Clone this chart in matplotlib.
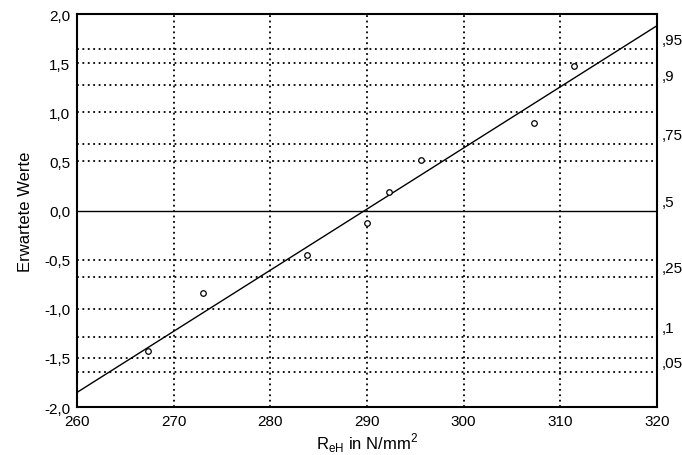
import matplotlib.pyplot as plt
import matplotlib.transforms as mtransforms
import numpy as np

plt.rcParams['font.family'] = ['Liberation Sans', 'DejaVu Sans']

# Messwerte R_eH und erwartete Normalwerte
x_werte = [267.3, 273.0, 283.8, 290.0, 292.3, 295.6, 307.3, 311.4]
y_werte = [-1.43, -0.84, -0.45, -0.13, 0.19, 0.51, 0.89, 1.47]

# Ausgleichsgerade
linie_x = [260, 320]
linie_y = [-1.85, 1.88]

# rechte Skala: Wahrscheinlichkeiten und ihre z-Werte
p_labels = [",95", ",9", ",75", ",5", ",25", ",1", ",05"]
p_z = [1.645, 1.2816, 0.674, 0.0, -0.674, -1.2816, -1.645]

x_ticks = [260, 270, 280, 290, 300, 310, 320]
y_ticks = [-2.0, -1.5, -1.0, -0.5, 0.0, 0.5, 1.0, 1.5, 2.0]

fig = plt.figure(figsize=(6.82, 4.56), dpi=100)
ax = fig.add_axes([0.113, 0.105, 0.85, 0.862])

ax.set_xlim(260, 320)
ax.set_ylim(-2.0, 2.0)

# Gitter
for xv in x_ticks[1:-1]:
    ax.axvline(xv, color='black', linestyle=(0, (1, 2)), linewidth=1.3, zorder=1)
for yv in y_ticks[1:-1]:
    if yv == 0.0:
        ax.axhline(yv, color='black', linestyle='-', linewidth=1.0, zorder=1)
    else:
        ax.axhline(yv, color='black', linestyle=(0, (1, 2)), linewidth=1.3, zorder=1)
for z in p_z:
    if z != 0.0:
        ax.axhline(z, color='black', linestyle=(0, (1, 2)), linewidth=1.3, zorder=1)

ax.plot(linie_x, linie_y, color='black', linewidth=1.0, zorder=2)
ax.plot(x_werte, y_werte, linestyle='none', marker='o', markersize=4,
        markerfacecolor='white', markeredgecolor='black', markeredgewidth=0.9, zorder=3)

ax.set_xticks(x_ticks)
ax.set_xticklabels([str(v) for v in x_ticks])
ax.set_yticks(y_ticks)
ax.set_yticklabels([("%.1f" % v).replace('.', ',') for v in y_ticks])
ax.tick_params(length=0, labelsize=11, pad=5)

trans = mtransforms.blended_transform_factory(ax.transAxes, ax.transData)
for lab, z in zip(p_labels, p_z):
    ax.text(1.008, z + 0.02, lab, transform=trans, fontsize=11, va='bottom', ha='left')

for s in ax.spines.values():
    s.set_linewidth(1.5)

ax.set_ylabel("Erwartete Werte", fontsize=12, labelpad=8)
ax.set_xlabel(r"R$_{\mathregular{eH}}$ in N/mm$^{\mathregular{2}}$", fontsize=12, labelpad=2)

fig.savefig("out.png", dpi=100)
